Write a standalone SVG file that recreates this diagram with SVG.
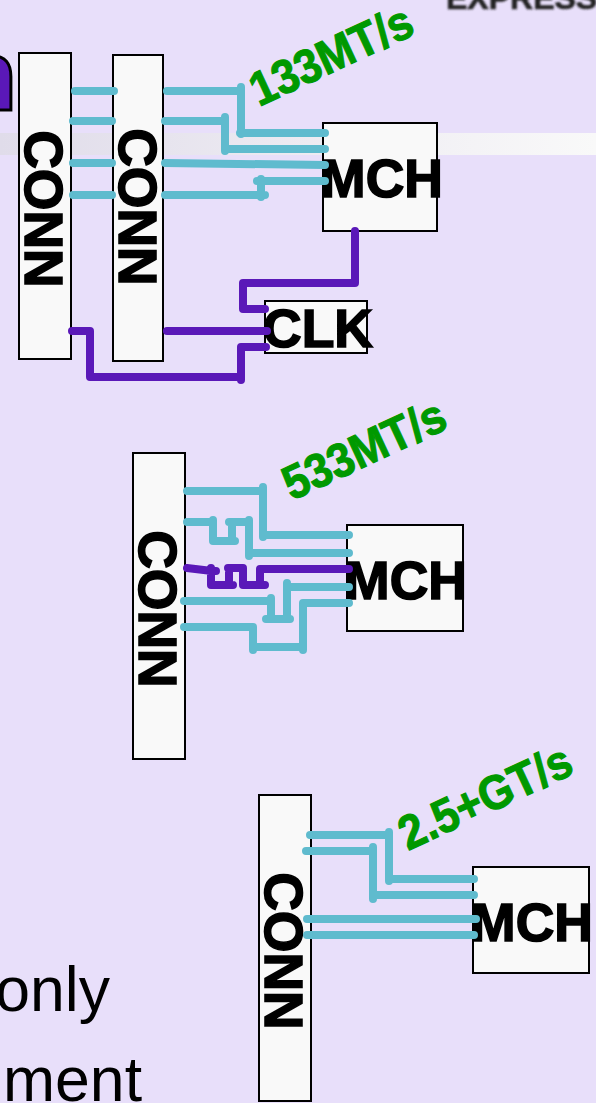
<svg xmlns="http://www.w3.org/2000/svg" width="596" height="1103" viewBox="0 0 596 1103">
<style>
.box{fill:#f9f9f9;stroke:#000;stroke-width:2}
.lbl{font:bold 53.5px "Liberation Sans",Arial,sans-serif;fill:#000;stroke:#000;stroke-width:1.6}
.spd{font:bold 48px "Liberation Sans",Arial,sans-serif;fill:#009900;stroke:#009900;stroke-width:1.1}
.body{font:62.5px "Liberation Sans",Arial,sans-serif;fill:#000}
#connectors path{fill:none;stroke-width:8;stroke-linecap:round;stroke-linejoin:round}
.c{stroke:#5fbbce}
.p{stroke:#5a18b8}
</style>
<defs>
<linearGradient id="band" x1="0" x2="1" y1="0" y2="0"><stop offset="0" stop-color="#e0dcea"/><stop offset="1" stop-color="#f9f9f9"/></linearGradient>
<filter id="soft" x="-5%" y="-20%" width="110%" height="140%"><feGaussianBlur stdDeviation="0.9"/></filter>
</defs>
<rect width="596" height="1103" fill="#e8dffa"/>
<rect y="133" width="596" height="22" fill="url(#band)"/>
<text x="446" y="9" font-family="Liberation Sans, Arial, sans-serif" font-weight="bold" font-size="32" fill="#222" stroke="#222" stroke-width=".6" filter="url(#soft)">EXPRESS</text>
<text x="-44" y="110" font-family="Liberation Sans, Arial, sans-serif" font-weight="bold" font-size="100" fill="#5a18b8" stroke="#000" stroke-width="3">n</text>

<g id="conn1"><rect class="box" x="19" y="53" width="52" height="306"/><text class="lbl" transform="translate(25 209) rotate(90)" text-anchor="middle">CONN</text></g>
<g id="conn2"><rect class="box" x="113" y="55" width="50" height="306"/><text class="lbl" transform="translate(119 207) rotate(90)" text-anchor="middle">CONN</text></g>
<g id="mch1"><rect class="box" x="323" y="123" width="114" height="108"/><text class="lbl" x="382" y="197" text-anchor="middle">MCH</text></g>
<g id="clk"><rect class="box" x="265" y="301" width="102" height="52"/><text class="lbl" x="318" y="347" text-anchor="middle">CLK</text></g>
<g id="conn3"><rect class="box" x="133" y="453" width="52" height="306"/><text class="lbl" transform="translate(139 609) rotate(90)" text-anchor="middle">CONN</text></g>
<g id="mch2"><rect class="box" x="347" y="525" width="116" height="106"/><text class="lbl" x="406" y="599" text-anchor="middle">MCH</text></g>
<g id="conn4"><rect class="box" x="259" y="795" width="52" height="306"/><text class="lbl" transform="translate(265 951) rotate(90)" text-anchor="middle">CONN</text></g>
<g id="mch3"><rect class="box" x="473" y="867" width="116" height="106"/><text class="lbl" x="532" y="941" text-anchor="middle">MCH</text></g>

<text class="spd" transform="translate(259 107) rotate(-25) scale(.92 1)">133MT/s</text>
<text class="spd" transform="translate(292 501) rotate(-25) scale(.92 1)">533MT/s</text>
<text class="spd" transform="translate(408 851) rotate(-25) scale(.92 1)">2.5+GT/s</text>
<text class="body" x="110" y="1011" text-anchor="end">only</text>
<text class="body" x="142" y="1101" text-anchor="end">ment</text>

<g id="connectors">
<path class="c" d="M75 91H114M73 121H112M73 163H112M73 195H112"/>
<path class="c" d="M167 91H241M241 87V134M240 133H325"/>
<path class="c" d="M165 121H225M225 117V151M225 149H325"/>
<path class="c" d="M165 163L325 165"/>
<path class="c" d="M165 195H265M261 179V197M257 181H325"/>
<path class="p" d="M355 231V283H243V309H265"/>
<path class="p" d="M167 331H267"/>
<path class="p" d="M72 331H90V377H241M241 380V347H266"/>

<path class="c" d="M187 491H263M263 487V537M263 535H349"/>
<path class="c" d="M187 522H213M213 520V541H235M232 541V522M229 522H249M249 520V556M249 553H349"/>
<path class="p" d="M187 568L212 571H216M211 568V585H233M229 585V568M228 568H243M243 568V585H265M260 585V569M260 569H349"/>
<path class="c" d="M184 601H271M271 598V619M266 619H290M287 619V583M287 587H349"/>
<path class="c" d="M184 627H253M253 627V650M253 647H303M303 650V603H349"/>

<path class="c" d="M310 835H389M389 832V881M389 879H474"/>
<path class="c" d="M306 851H373M373 847V899M373 895H474"/>
<path class="c" d="M307 919H476M307 935H474"/>
</g>
</svg>
